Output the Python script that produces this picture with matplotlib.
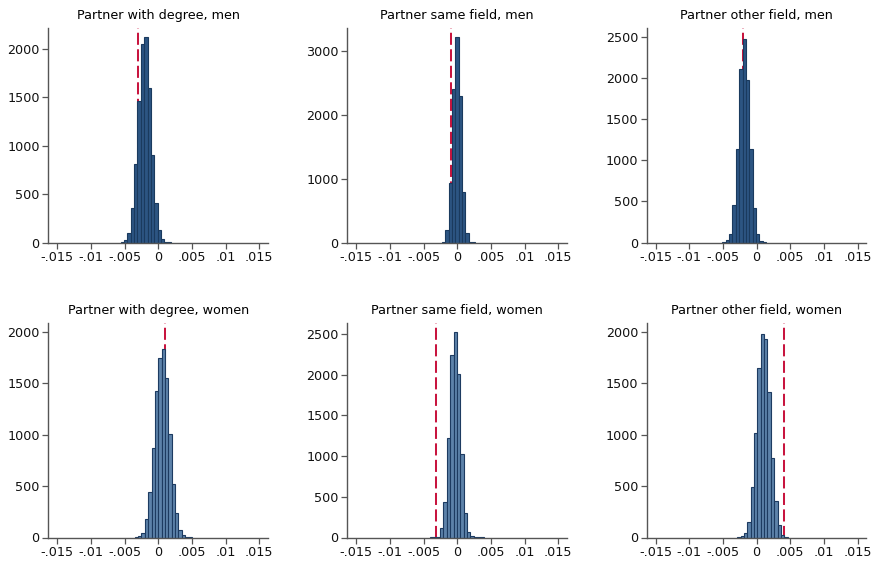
import numpy as np
import matplotlib
matplotlib.use('Agg')
import matplotlib.pyplot as plt

# permutation distributions
titles = ['Partner with degree, men', 'Partner same field, men', 'Partner other field, men',
          'Partner with degree, women', 'Partner same field, women', 'Partner other field, women']

bin_width = 0.0005
first_edge = [-0.0056, -0.0023, -0.0051, -0.0035, -0.00405, -0.0029]

men_degree = [8, 27, 96, 354, 811, 1460, 2051, 2117, 1591, 904, 412, 124, 34, 8, 4]
men_same = [8, 188, 937, 2396, 3214, 2292, 792, 146, 15, 6]
men_other = [10, 28, 101, 454, 1138, 2115, 2471, 1973, 1138, 425, 101, 20, 8]
women_degree = [6, 18, 45, 182, 438, 866, 1420, 1740, 1828, 1546, 1002, 520, 242, 75, 23, 6, 3]
women_same = [3, 4, 8, 111, 439, 1217, 2242, 2520, 2006, 1020, 305, 64, 18, 5, 2, 4]
women_other = [5, 13, 39, 146, 488, 1015, 1643, 1974, 1929, 1410, 768, 353, 117, 29, 3]
counts = [men_degree, men_same, men_other, women_degree, women_same, women_other]

# observed estimates (dashed red lines)
observed = [-0.0030, -0.0010, -0.0020, 0.00095, -0.0031, 0.0040]

ymax = [2210, 3349, 2605, 2081, 2631, 2081]
ytick_step = [500, 1000, 500, 500, 500, 500]
ytick_top = [2000, 3000, 2500, 2000, 2500, 2000]

xticks = [-0.015, -0.01, -0.005, 0, 0.005, 0.01, 0.015]
xticklabels = ['-.015', '-.01', '-.005', '0', '.005', '.01', '.015']

plt.rcParams['font.family'] = 'DejaVu Sans'
plt.rcParams['font.size'] = 9.2

W, H = 875, 564
fig = plt.figure(figsize=(W / 100, H / 100), dpi=100)

lefts = [48.3, 347.3, 646.7]
tops = [28.3, 323.3]
aw, ah = 219.7, 214.2

for i in range(6):
	row, col = divmod(i, 3)
	ax = fig.add_axes([lefts[col] / W, 1 - (tops[row] + ah) / H, aw / W, ah / H])

	edges = first_edge[i] + bin_width * np.arange(len(counts[i]))
	if row == 0:
		face, edge = '#2c5582', '#1a3a5e'
	else:
		face, edge = '#5d82aa', '#1d3b61'
	ax.bar(edges, counts[i], width=bin_width, align='edge', color=face,
		   edgecolor=edge, linewidth=0.8, zorder=2)
	ax.axvline(observed[i], color='#c8153f', lw=1.45, dashes=(6, 2.2), zorder=1)

	ax.set_xlim(-0.01634, 0.0163)
	ax.set_ylim(0, ymax[i])
	ax.set_xticks(xticks)
	ax.set_xticklabels(xticklabels)
	ax.set_yticks(np.arange(0, ytick_top[i] + 1, ytick_step[i]))
	ax.set_title(titles[i], fontsize=9.2, pad=7)

	for s in ['top', 'right']:
		ax.spines[s].set_visible(False)
	for s in ['left', 'bottom']:
		ax.spines[s].set_color('#555555')
		ax.spines[s].set_linewidth(1.0)
	ax.tick_params(length=4.2, width=0.9, color='#555555', labelcolor='#111111', pad=2)

fig.savefig('out.png', dpi=100)
